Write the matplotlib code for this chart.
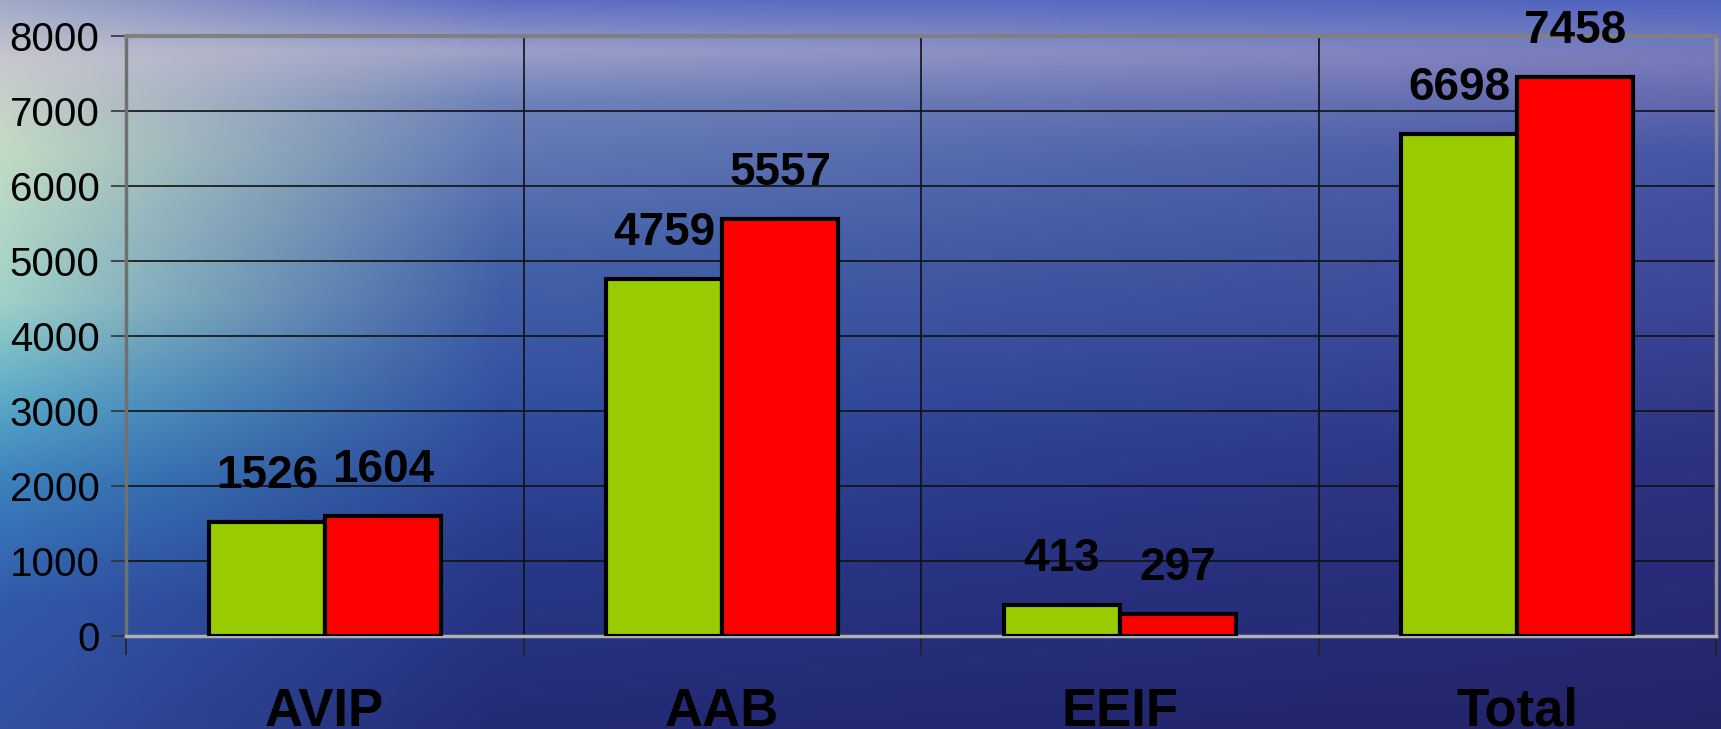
import numpy as np
import matplotlib
matplotlib.use('Agg')
import matplotlib.pyplot as plt
import matplotlib.transforms as mtransforms

# chart data
categories = ['AVIP', 'AAB', 'EEIF', 'Total']
series_green = [1526, 4759, 413, 6698]
series_red = [1604, 5557, 297, 7458]
y_ticks = [0, 1000, 2000, 3000, 4000, 5000, 6000, 7000, 8000]

W, H = 1721, 729
plt.rcParams['font.family'] = ['Liberation Sans', 'DejaVu Sans']

fig = plt.figure(figsize=(W / 100, H / 100), dpi=100)

# ocean-like background gradient (left / middle / right vertical colour profiles)
ys = np.arange(H)
left_stops = ([0, 60, 150, 300, 400, 480, 600, 729],
              [(160, 170, 200), (200, 200, 205), (195, 220, 195), (160, 210, 200),
               (90, 170, 200), (60, 130, 190), (50, 90, 170), (50, 80, 160)])
mid_stops = ([0, 50, 100, 250, 400, 550, 729],
             [(95, 110, 195), (155, 160, 200), (110, 130, 185), (70, 100, 170),
              (50, 80, 160), (40, 58, 138), (35, 42, 118)])
right_stops = ([0, 40, 60, 150, 300, 450, 729],
               [(80, 100, 190), (110, 120, 190), (120, 120, 185), (70, 85, 165),
                (60, 70, 150), (45, 50, 130), (35, 35, 105)])


def profile(stops):
    pos, cols = stops
    cols = np.array(cols, dtype=float)
    return np.stack([np.interp(ys, pos, cols[:, c]) for c in range(3)], axis=-1)


profs = [profile(left_stops), profile(mid_stops), profile(right_stops)]
anchor_x = [0, 500, W - 1]
xs = np.arange(W)
img = np.zeros((H, W, 3))
for c in range(3):
    col_stack = np.stack([p[:, c] for p in profs], axis=1)  # H x 3
    for r in range(H):
        img[r, :, c] = np.interp(xs, anchor_x, col_stack[r])
img = np.clip(img / 255.0, 0, 1)

bg = fig.add_axes([0, 0, 1, 1], zorder=-1)
bg.imshow(img, aspect='auto', extent=[0, 1, 0, 1], interpolation='bilinear')
bg.axis('off')

# main plot area
left, right, top, zero = 126, 1716, 36, 636
ax = fig.add_axes([left / W, 1 - zero / H, (right - left) / W, (zero - top) / H])
ax.set_facecolor('none')

x = np.arange(len(categories)) + 0.5
bw = 0.292
green_bars = ax.bar(x - bw / 2, series_green, width=bw, color='#99cc00',
                    edgecolor='black', linewidth=3, zorder=3)
red_bars = ax.bar(x + bw / 2, series_red, width=bw, color='#ff0000',
                  edgecolor='black', linewidth=3, zorder=3)

for bars in (green_bars, red_bars):
    for bar in bars:
        ax.annotate(str(int(bar.get_height())),
                    (bar.get_x() + bar.get_width() / 2, bar.get_height()),
                    xytext=(0, 34), textcoords='offset pixels',
                    ha='center', va='baseline', fontsize=33, fontweight='bold',
                    color='black', zorder=5, annotation_clip=False)

ax.set_xlim(0, len(categories))
ax.set_ylim(0, 8000)
ax.set_yticks(y_ticks)
ax.set_yticklabels([str(t) for t in y_ticks], fontsize=29)
ax.set_xticks(np.arange(len(categories) + 1))
ax.set_xticklabels([])
ax.tick_params(axis='y', direction='out', length=11, width=1.2, pad=8, color='#333333')
ax.tick_params(axis='x', direction='out', length=14, width=1.2, color='#222222')

ax.grid(True, color='#111111', linewidth=1.2, zorder=1)
ax.set_axisbelow(True)

ax.spines['top'].set_color('#808080')
ax.spines['top'].set_linewidth(3)
ax.spines['right'].set_color('#909090')
ax.spines['right'].set_linewidth(2.5)
ax.spines['left'].set_color('#707070')
ax.spines['left'].set_linewidth(2.5)
ax.spines['bottom'].set_color('#b0b0b0')
ax.spines['bottom'].set_linewidth(2.5)

# category names near bottom edge of the image
trans = mtransforms.blended_transform_factory(ax.transData, fig.transFigure)
for xi, cat in zip(x, categories):
    ax.text(xi, 1 - 726 / H, cat, transform=trans, ha='center', va='baseline',
            fontsize=38, fontweight='bold', color='black', clip_on=False)

fig.savefig('out.png', dpi=100)
